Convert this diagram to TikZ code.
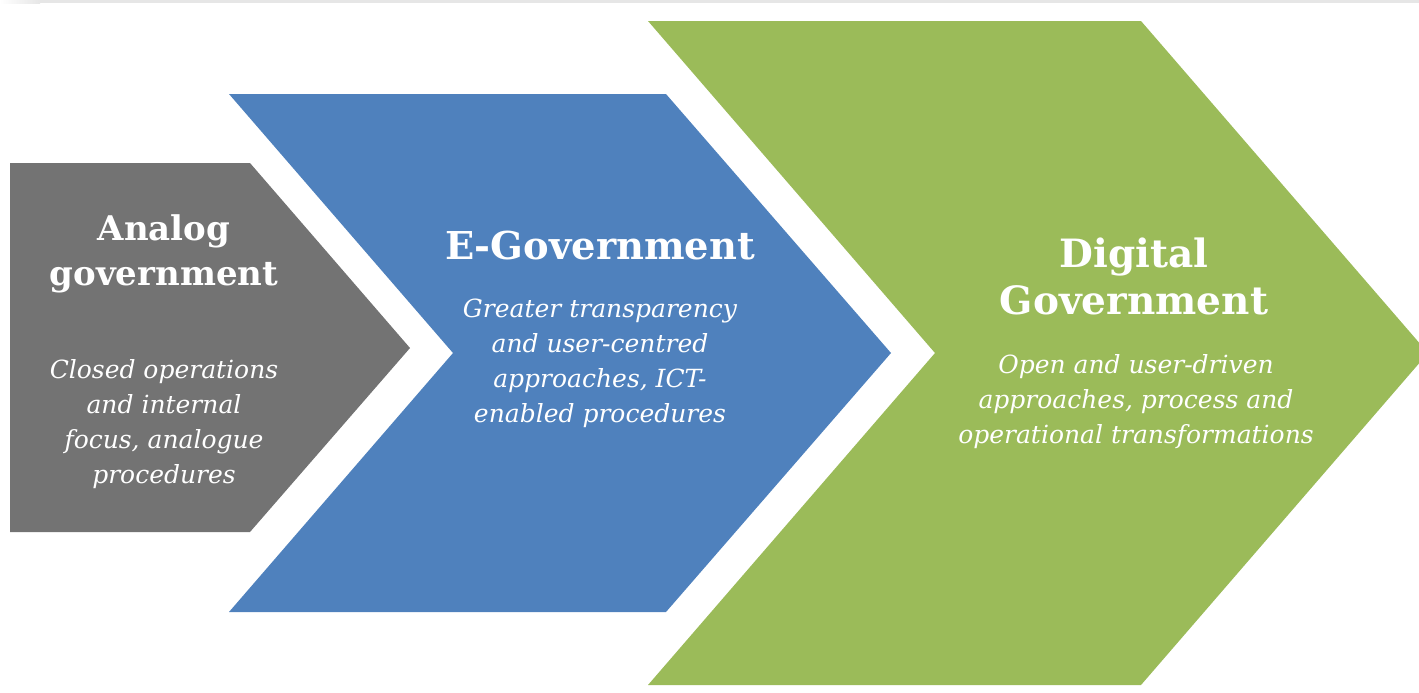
\documentclass[tikz,border=0pt]{standalone}
\usepackage{fontspec}
\setmainfont{DejaVu Serif}
\usetikzlibrary{positioning,calc}

\definecolor{analoggray}{RGB}{115,115,115}
\definecolor{eblue}{RGB}{79,129,189}
\definecolor{digitalgreen}{RGB}{155,187,89}
\definecolor{topline}{RGB}{230,230,230}

\tikzset{
  headtext/.style={text=white,align=center,inner sep=0pt,anchor=base},
  bodytext/.style={text=white,align=center,inner sep=0pt,anchor=base,
    font=\itshape\fontsize{12.5}{17.5}\selectfont},
}

\begin{document}
\begin{tikzpicture}[x=0.5pt,y=-0.5pt]
\clip (0,0) rectangle (1419,692);

% thin rule along the top
\shade[left color=white,right color=topline] (0,0) rectangle (40,3);
\fill[topline] (40,0) rectangle (1419,3);

% analog government
\coordinate (a1) at ( 10,163);
\coordinate (a2) at (250,163);
\coordinate (a3) at (410,348);
\coordinate (a4) at (250,532);
\coordinate (a5) at ( 10,532);
\fill[analoggray] (a1)--(a2)--(a3)--(a4)--(a5)--cycle;

% e-government
\coordinate (b1) at (229, 94);
\coordinate (b2) at (666, 94);
\coordinate (b3) at (891,353);
\coordinate (b4) at (666,612);
\coordinate (b5) at (229,612);
\coordinate (b6) at (453,353);
\fill[eblue] (b1)--(b2)--(b3)--(b4)--(b5)--(b6)--cycle;

% digital government
\coordinate (c1) at ( 648, 21);
\coordinate (c2) at (1141, 21);
\coordinate (c3) at (1428,353);
\coordinate (c4) at (1141,685);
\coordinate (c5) at ( 648,685);
\coordinate (c6) at ( 935,353);
\fill[digitalgreen] (c1)--(c2)--(c3)--(c4)--(c5)--(c6)--cycle;

% texts (base = baseline of the last line)
\node[headtext,font=\bfseries\fontsize{17}{22.5}\selectfont] (analoghead) at (164,285)
  {Analog\\government};
\node[bodytext] (analogbody) at (164,483)
  {Closed operations\\and internal\\focus, analogue\\procedures};

\node[headtext,font=\bfseries\fontsize{19.2}{23.5}\selectfont] (ehead) at (600,259)
  {E-Government};
\node[bodytext] (ebody) at (600,422)
  {Greater transparency\\and user-centred\\approaches, ICT-\\enabled procedures};

\node[headtext,font=\bfseries\fontsize{19.5}{23.5}\selectfont] (digitalhead) at (1134,314)
  {Digital\\Government};
\node[bodytext] (digitalbody) at (1136,443)
  {Open and user-driven\\approaches, process and\\operational transformations};
\end{tikzpicture}
\end{document}
